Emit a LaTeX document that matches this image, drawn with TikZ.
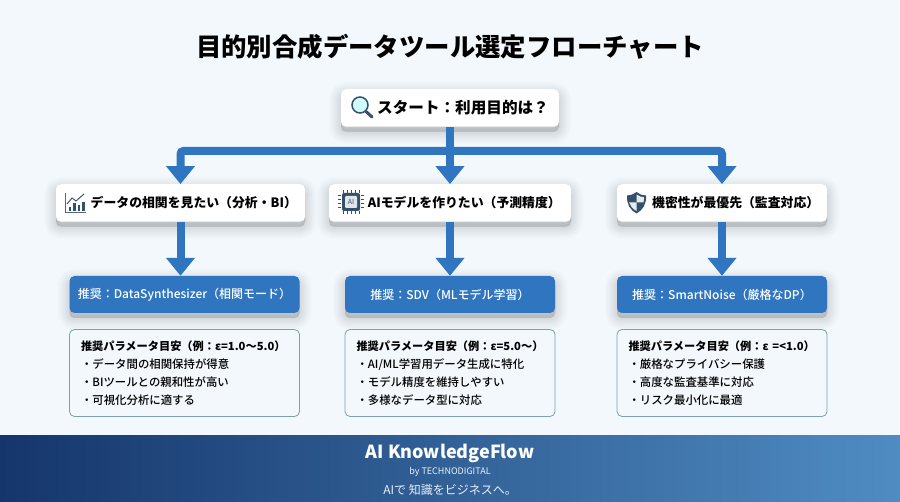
\documentclass[tikz,border=0pt]{standalone}
\usepackage{fontspec}
\setmainfont{Noto Sans CJK JP}
\newfontfamily\medfont{Noto Sans CJK JP Medium}
\usetikzlibrary{arrows.meta}
\definecolor{pagebg}{HTML}{F2F8FB}
\definecolor{flowblue}{HTML}{2F75BF}
\definecolor{iconblue}{HTML}{34506B}
\definecolor{parline}{HTML}{7F9FB0}
\definecolor{footdark}{HTML}{15366C}
\definecolor{footlight}{HTML}{4F8CC2}
\newcommand{\parhead}[1]{\mbox{\fontsize{11.2}{18}\bfseries #1}}
\tikzset{
  softlayer/.style={preaction={transform canvas={yshift=-5pt}, draw=black, fill=black, draw opacity=.014, fill opacity=.014, line join=round, line width=#1}},
  softshadow/.style={softlayer=24pt, softlayer=20pt, softlayer=16pt, softlayer=13pt, softlayer=10pt, softlayer=7pt, softlayer=4pt, softlayer=1pt},
  askbox/.style={softshadow, rounded corners=5pt, fill=white, minimum height=37.5pt, inner sep=0pt, font=\fontsize{12.85}{15}\bfseries},
  recbox/.style={softshadow, rounded corners=5pt, fill=flowblue, text=white, minimum height=37pt, inner sep=0pt, font=\fontsize{12}{14}\medfont},
  parbox/.style={rounded corners=5pt, draw=parline, line width=.8pt, fill=pagebg, minimum height=87pt, inner sep=0pt, align=left, font=\fontsize{11.4}{18}\medfont},
  flowline/.style={draw=flowblue, line width=8pt},
  flowarrow/.style={flowline, -{Triangle[width=28pt,length=18pt]}}
}
\begin{document}
\begin{tikzpicture}[x=1pt, y=-1pt]
\useasboundingbox (0,0) rectangle (900,502);
\fill[pagebg] (0,0) rectangle (900,502);
\shade[left color=footdark, right color=footlight] (0,436) rectangle (900,502);

\node [font=\fontsize{25.4}{28}\bfseries, inner sep=0pt] (title) at (450,47) {目的別合成データツール選定フローチャート};

\node [askbox, minimum width=218pt, font=\fontsize{15.6}{18}\bfseries] (start) at (450,108) {\hspace*{26pt}スタート：利用目的は？};
\node [askbox, minimum width=249pt] (q1) at (180.5,203) {\hspace*{26.6pt}データの相関を見たい（分析・BI）};
\node [askbox, minimum width=242pt] (q2) at (450,203) {\hspace*{28.7pt}AIモデルを作りたい（予測精度）};
\node [askbox, minimum width=210pt] (q3) at (722,203) {\hspace*{27.4pt}機密性が最優先（監査対応）};

\node [recbox, minimum width=230pt] (r1) at (184.5,294.5) {推奨：DataSynthesizer（相関モード）};
\node [recbox, minimum width=210pt] (r2) at (450,294.5) {推奨：SDV（MLモデル学習）};
\node [recbox, minimum width=210pt] (r3) at (722,294.5) {推奨：SmartNoise（厳格なDP）};

\node [parbox, minimum width=230pt, text width=207pt] (p1) at (184.5,373) {\parhead{推奨パラメータ目安（例：ε=1.0〜5.0）}\\・データ間の相関保持が得意\\・BIツールとの親和性が高い\\・可視化分析に適する};
\node [parbox, minimum width=210pt, text width=187pt] (p2) at (450,373) {\parhead{推奨パラメータ目安（例：ε=5.0〜）}\\・AI/ML学習用データ生成に特化\\・モデル精度を維持しやすい\\・多様なデータ型に対応};
\node [parbox, minimum width=210pt, text width=187pt] (p3) at (722,373) {\parhead{推奨パラメータ目安（例：ε =<1.0）}\\・厳格なプライバシー保護\\・高度な監査基準に対応\\・リスク最小化に最適};

\node [text=white, font=\fontsize{18}{20}\bfseries, inner sep=0pt] (brand) at (450,453) {AI KnowledgeFlow};
\node [text=white!88!footlight, font=\fontsize{9}{10}\selectfont, inner sep=0pt] (by) at (450,472) {by TECHNODIGITAL};
\node [text=white!88!footlight, font=\fontsize{12}{14}\selectfont, inner sep=0pt] (slogan) at (450,490) {AIで 知識をビジネスへ。};

\coordinate (split) at (450,151);
\draw[flowarrow, rounded corners=3pt] (split) -| (q1.north);
\draw[flowarrow, rounded corners=3pt] (split) -| (q3.north);
\draw[flowline] (start.south) -- (split);
\draw[flowarrow] (split) -- (q2.north);
\draw[flowarrow] (q1.south) -- (q1.south |- r1.north);
\draw[flowarrow] (q2.south) -- (r2.north);
\draw[flowarrow] (q3.south) -- (r3.north);

% magnifier
\draw[iconblue, line width=3pt, line cap=round] (366,111.5) -- (372,117);
\draw[iconblue, fill=blue!8!cyan!18!white, line width=1.5pt] (360,105) circle (8);
% chart
\draw[iconblue!85!white, line width=.9pt] (65.5,193) -- (65.5,212.5) -- (86,212.5);
\fill[iconblue] (68.5,207.5) rectangle (71,211);
\fill[iconblue] (73,203.5) rectangle (75.5,211);
\fill[iconblue] (77.5,205) rectangle (80,211);
\fill[iconblue] (82,202.5) rectangle (84.5,211);
\draw[iconblue, line width=.9pt] (67,204) -- (72,198) -- (76,201) -- (84,194);
% chip
\draw[iconblue, line width=.8pt] (343,190.5) -- (343,193) (347,190.5) -- (347,193) (351,190.5) -- (351,193) (355,190.5) -- (355,193) (359,190.5) -- (359,193);
\draw[iconblue, line width=.8pt] (343,211.5) -- (343,214.5) (347,211.5) -- (347,214.5) (351,211.5) -- (351,214.5) (355,211.5) -- (355,214.5) (359,211.5) -- (359,214.5);
\draw[iconblue, line width=.8pt] (338,195) -- (341,195) (338,199) -- (341,199) (338,203) -- (341,203) (338,207) -- (341,207);
\draw[iconblue, line width=.8pt] (361,195) -- (364,195) (361,199) -- (364,199) (361,203) -- (364,203) (361,207) -- (364,207);
\fill[iconblue, rounded corners=2pt] (342,193) rectangle (360,211);
\fill[white!85!iconblue, rounded corners=1pt] (345,196) rectangle (357,208);
\node [text=iconblue, font=\fontsize{7}{8}\selectfont, inner sep=0pt] (chip) at (351,202) {AI};
% shield
\fill[iconblue] (636.5,192) .. controls (632,195) and (630,195.5) .. (627,195.5) .. controls (626.5,204) and (630,210) .. (636.5,213.5) .. controls (643,210) and (646.5,204) .. (646,195.5) .. controls (643,195.5) and (641,195) .. (636.5,192);
\fill[white!88!iconblue] (636.5,194.5) .. controls (639,196.5) and (641.5,197) .. (644,197.2) -- (643.6,202.5) -- (636.5,202.5) -- cycle;
\fill[white!88!iconblue] (629.2,202.5) -- (636.5,202.5) -- (636.5,211) .. controls (632.5,208.5) and (630,206) .. (629.2,202.5) -- cycle;
\end{tikzpicture}
\end{document}
